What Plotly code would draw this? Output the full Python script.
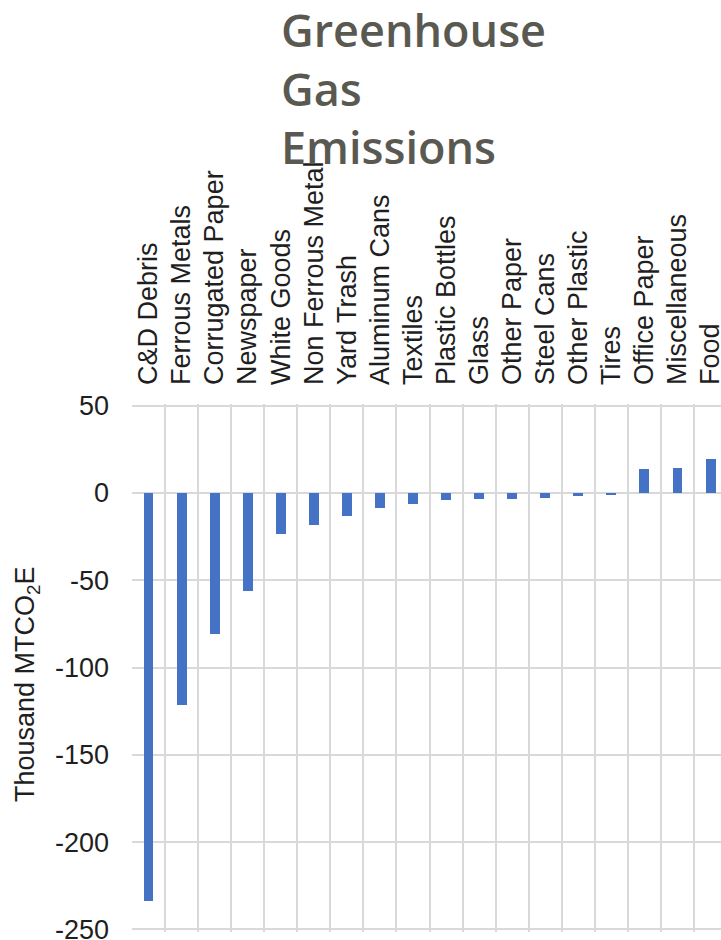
import plotly.graph_objects as go

# Waste categories, ordered from largest reduction to largest emission
categories = [
    "C&D Debris", "Ferrous Metals", "Corrugated Paper", "Newspaper",
    "White Goods", "Non Ferrous Metal", "Yard Trash", "Aluminum Cans",
    "Textiles", "Plastic Bottles", "Glass", "Other Paper", "Steel Cans",
    "Other Plastic", "Tires", "Office Paper", "Miscellaneous", "Food",
]

# Net greenhouse gas emissions, thousand MTCO2E
emissions = [
    -234.0, -121.5, -80.5, -56.3,
    -23.6, -18.1, -12.9, -8.6,
    -6.5, -4.2, -3.4, -3.4, -2.9,
    -1.5, -1.0, 13.6, 14.1, 19.3,
]

y_ticks = [50, 0, -50, -100, -150, -200, -250]
y_tick_text = ["50", "0", "-50", "-100", "-150", "-200", "-250"]

W, H = 721, 940
PX_PER_UNIT = 1.747
Y_LO, Y_HI = -251.5, 51.0
TOP_50 = 405.4  # pixel row of the +50 gridline

ML, MR = 132, 0
MT = TOP_50 - (Y_HI - 50) * PX_PER_UNIT
plot_h = (Y_HI - Y_LO) * PX_PER_UNIT
MB = H - MT - plot_h
plot_w = W - ML - MR

GRID = "#d9d9d9"
TXT = "#1f1f1f"
LABEL_FONT = "Liberation Sans, Arial, sans-serif"


def px_to_paper_y(p):
    return (H - MB - p) / plot_h


def px_to_paper_x(p):
    return (p - ML) / plot_w


fig = go.Figure(
    go.Bar(
        x=categories,
        y=emissions,
        width=0.3,
        marker=dict(color="#4472C4", line=dict(width=0)),
    )
)

fig.update_layout(
    width=W,
    height=H,
    autosize=False,
    margin=dict(l=ML, r=MR, t=MT, b=MB, pad=0),
    paper_bgcolor="white",
    plot_bgcolor="white",
    showlegend=False,
    bargap=0,
)

fig.update_xaxes(
    side="top",
    type="category",
    tickangle=-90,
    tickson="boundaries",
    showgrid=True,
    gridcolor=GRID,
    gridwidth=1.5,
    ticks="",
    showline=False,
    zeroline=False,
    range=[-0.5, -0.5 + plot_w / 33.06],
    tickfont=dict(family=LABEL_FONT, size=27, color=TXT),
    ticklabelstandoff=18,
    ticklabeloverflow="allow",
    automargin=False,
)

fig.update_yaxes(
    range=[Y_LO, Y_HI],
    tickvals=y_ticks,
    ticktext=y_tick_text,
    showgrid=True,
    gridcolor=GRID,
    gridwidth=1.5,
    zeroline=False,
    showline=False,
    ticks="",
    tickfont=dict(family=LABEL_FONT, size=27, color=TXT),
    ticklabelstandoff=22,
    ticklabeloverflow="allow",
    automargin=False,
)

# Vertical axis title
fig.add_annotation(
    text="Thousand MTCO<sub>2</sub>E",
    xref="paper", yref="paper",
    x=px_to_paper_x(27), y=px_to_paper_y(684),
    xanchor="center", yanchor="middle",
    textangle=-90,
    showarrow=False,
    font=dict(family=LABEL_FONT, size=27, color=TXT),
)

# Chart heading
fig.add_annotation(
    text="Greenhouse<br>Gas<br>Emissions",
    xref="paper", yref="paper",
    x=px_to_paper_x(279), y=px_to_paper_y(-4),
    xanchor="left", yanchor="top",
    align="left",
    showarrow=False,
    font=dict(family="Open Sans, sans-serif", size=45, color="#595952", weight=600),
)

fig.write_html("out.html", include_plotlyjs=True, config={"displayModeBar": False})
